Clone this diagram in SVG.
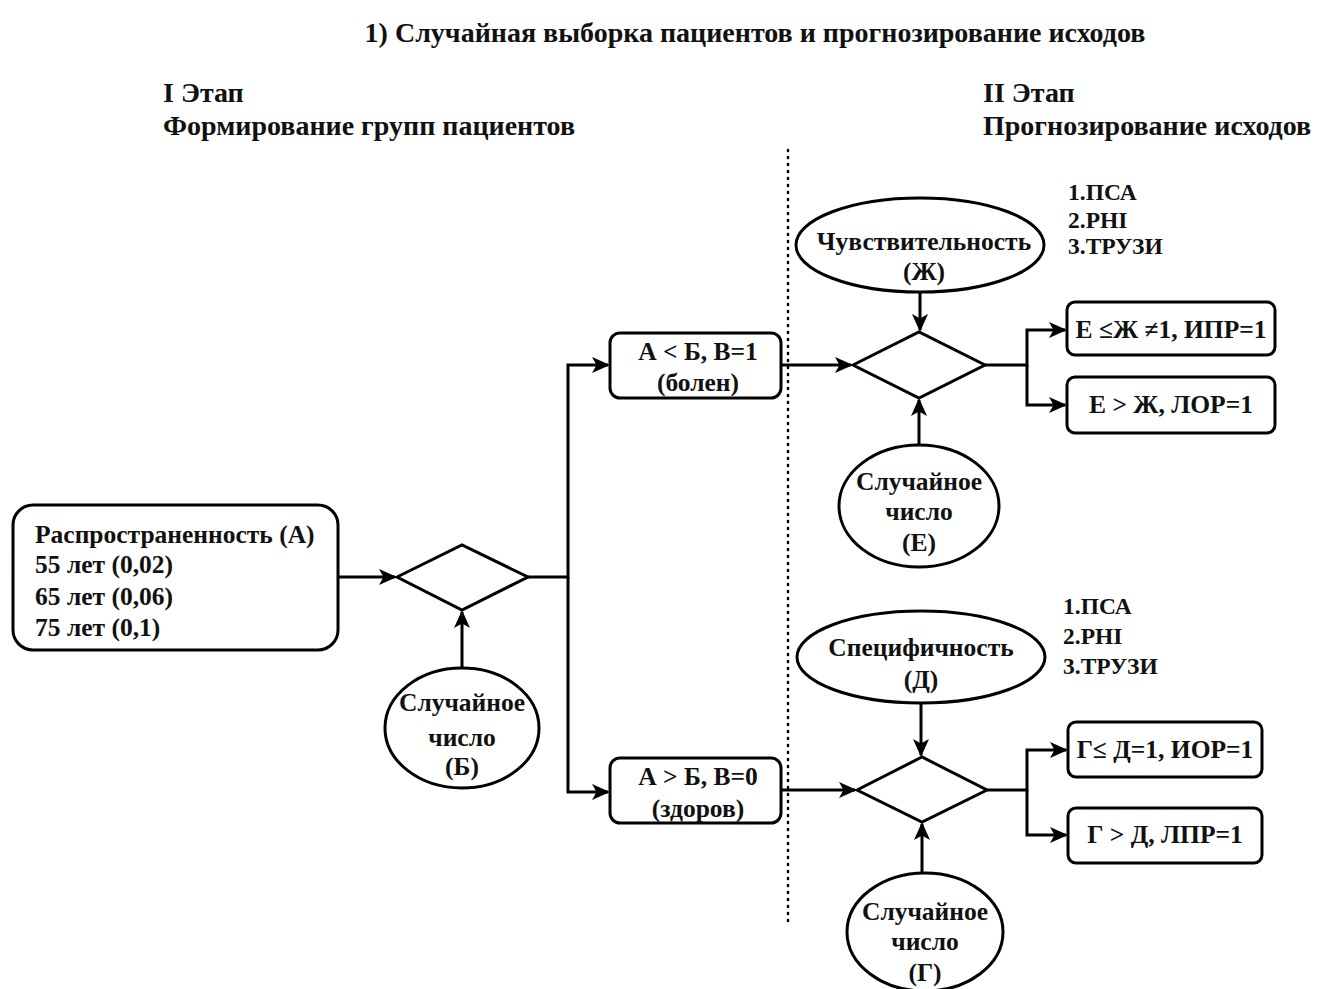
<svg xmlns="http://www.w3.org/2000/svg" width="1319" height="989" viewBox="0 0 1319 989">
<style>
text{font-family:"Liberation Serif","Times New Roman",serif;font-weight:bold;fill:#111}
.hd{font-size:28px}
.t{font-size:25.5px}
.l{font-size:23.5px}
.c{text-anchor:middle}
.s{fill:#fff;stroke:#000;stroke-width:3}
.e{fill:none;stroke:#000;stroke-width:3}
</style>
<defs>
<marker id="ar" viewBox="0 0 18 16" refX="16" refY="8" markerWidth="18" markerHeight="16" markerUnits="userSpaceOnUse" orient="auto">
<path d="M0,0 L18,8 L0,16 L4.5,8 Z" fill="#000"/>
</marker>
</defs>
<rect width="1319" height="989" fill="#fff"/>
<g id="titles">
<text class="hd c" x="755" y="42">1) Случайная выборка пациентов и прогнозирование исходов</text>
<text class="hd" x="163" y="102">I Этап</text>
<text class="hd" x="163" y="135">Формирование групп пациентов</text>
<text class="hd" x="983" y="102">II Этап</text>
<text class="hd" x="983" y="135">Прогнозирование исходов</text>
</g>
<line id="divider" x1="788" y1="150" x2="788" y2="925" stroke="#000" stroke-width="2.5" stroke-dasharray="1 6" stroke-linecap="round"/>
<g id="connectors">
<path class="e" d="M338,577 H395" marker-end="url(#ar)"/>
<path class="e" d="M462,668 V612" marker-end="url(#ar)"/>
<path class="e" d="M528,577 H568 V365 H608" marker-end="url(#ar)"/>
<path class="e" d="M568,577 V792 H608" marker-end="url(#ar)"/>
<path class="e" d="M781,365 H851" marker-end="url(#ar)"/>
<path class="e" d="M920,292 V330" marker-end="url(#ar)"/>
<path class="e" d="M919,445 V400" marker-end="url(#ar)"/>
<path class="e" d="M985,365 H1027 V330 H1065" marker-end="url(#ar)"/>
<path class="e" d="M1027,365 V405 H1065" marker-end="url(#ar)"/>
<path class="e" d="M781,790 H855" marker-end="url(#ar)"/>
<path class="e" d="M921,703 V755" marker-end="url(#ar)"/>
<path class="e" d="M922,873 V824" marker-end="url(#ar)"/>
<path class="e" d="M987,790 H1027 V750 H1066" marker-end="url(#ar)"/>
<path class="e" d="M1027,790 V835 H1066" marker-end="url(#ar)"/>
</g>
<g id="prevalence">
<rect class="s" x="13" y="505" width="325" height="145" rx="20"/>
<text class="t" x="35" y="543">Распространенность (А)</text>
<text class="t" x="35" y="573">55 лет (0,02)</text>
<text class="t" x="35" y="605">65 лет (0,06)</text>
<text class="t" x="35" y="636">75 лет (0,1)</text>
</g>
<g id="decision1"><polygon class="s" points="397,577 462,545 528,577 462,610"/></g>
<g id="randomB">
<ellipse class="s" cx="462" cy="728" rx="77" ry="60"/>
<text class="t c" x="462" y="711">Случайное</text>
<text class="t c" x="462" y="746">число</text>
<text class="t c" x="462" y="775">(Б)</text>
</g>
<g id="sick">
<rect class="s" x="610" y="333" width="171" height="65" rx="10"/>
<text class="t c" x="698" y="360">А &lt; Б, В=1</text>
<text class="t c" x="698" y="391">(болен)</text>
</g>
<g id="healthy">
<rect class="s" x="610" y="758" width="171" height="65" rx="10"/>
<text class="t c" x="698" y="785">А &gt; Б, В=0</text>
<text class="t c" x="698" y="817">(здоров)</text>
</g>
<g id="sensitivity">
<ellipse class="s" cx="920" cy="245" rx="124" ry="47"/>
<text class="t c" x="924" y="250">Чувствительность</text>
<text class="t c" x="924" y="280">(Ж)</text>
</g>
<g id="decision2"><polygon class="s" points="853,365 919,332 985,365 919,398"/></g>
<g id="randomE">
<ellipse class="s" cx="919" cy="506" rx="80" ry="61"/>
<text class="t c" x="919" y="490">Случайное</text>
<text class="t c" x="919" y="520">число</text>
<text class="t c" x="919" y="551">(Е)</text>
</g>
<g id="list1">
<text class="l" x="1068" y="200">1.ПСА</text>
<text class="l" x="1068" y="228">2.PHI</text>
<text class="l" x="1068" y="254">3.ТРУЗИ</text>
</g>
<g id="ipr">
<rect class="s" x="1067" y="302" width="208" height="53" rx="8"/>
<text class="t c" x="1171" y="338">Е ≤Ж ≠1, ИПР=1</text>
</g>
<g id="lor">
<rect class="s" x="1067" y="377" width="208" height="56" rx="8"/>
<text class="t c" x="1171" y="413">Е &gt; Ж, ЛОР=1</text>
</g>
<g id="specificity">
<ellipse class="s" cx="921" cy="657" rx="124" ry="46"/>
<text class="t c" x="921" y="656">Специфичность</text>
<text class="t c" x="921" y="688">(Д)</text>
</g>
<g id="decision3"><polygon class="s" points="857,790 922,757 987,790 922,822"/></g>
<g id="randomG">
<ellipse class="s" cx="925" cy="932" rx="78" ry="59"/>
<text class="t c" x="925" y="920">Случайное</text>
<text class="t c" x="925" y="950">число</text>
<text class="t c" x="925" y="981">(Г)</text>
</g>
<g id="list2">
<text class="l" x="1063" y="614">1.ПСА</text>
<text class="l" x="1063" y="644">2.PHI</text>
<text class="l" x="1063" y="674">3.ТРУЗИ</text>
</g>
<g id="ior">
<rect class="s" x="1068" y="722" width="194" height="55" rx="8"/>
<text class="t c" x="1165" y="758">Г≤ Д=1, ИОР=1</text>
</g>
<g id="lpr">
<rect class="s" x="1068" y="808" width="194" height="55" rx="8"/>
<text class="t c" x="1165" y="843">Г &gt; Д, ЛПР=1</text>
</g>
</svg>
